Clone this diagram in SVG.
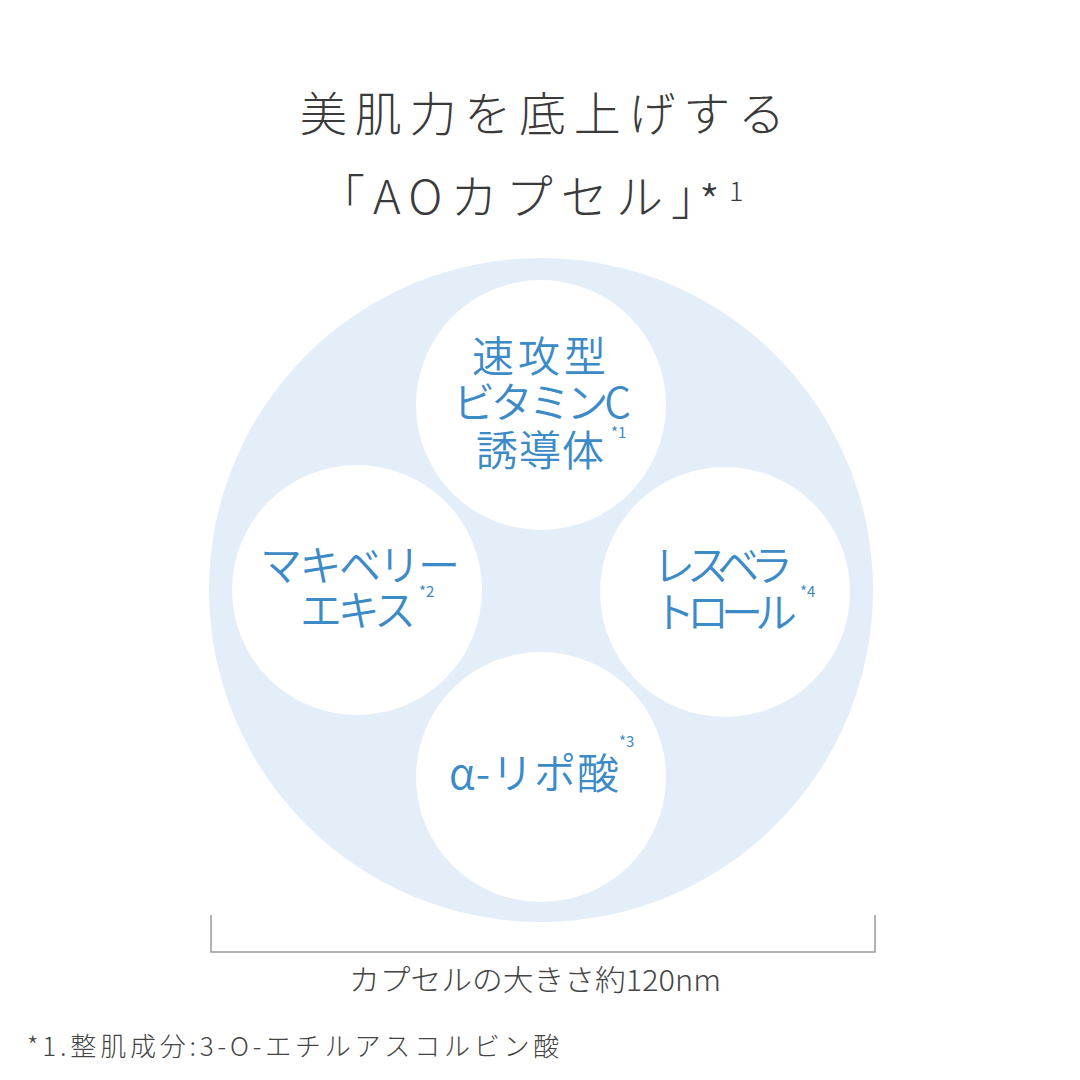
<svg xmlns="http://www.w3.org/2000/svg" width="1080" height="1080" viewBox="0 0 1080 1080">
<style>
.t{font-family:"Noto Sans CJK JP","Noto Sans",sans-serif;font-weight:300;}
.title{font-size:47px;fill:#3a3a3a;}
.lab{font-size:42px;fill:#3c8ac6;font-weight:350;}
.sup{font-size:15px;fill:#3c8ac6;font-weight:400;}
.cap{font-size:29px;fill:#444;}
.foot{font-size:26px;fill:#444;letter-spacing:3.8px;}
.cell{fill:#ffffff;}
</style>
<rect width="1080" height="1080" fill="#ffffff"/>
<g id="title" class="t">
<text class="title" x="300" y="131" textLength="485" lengthAdjust="spacing">美肌力を底上げする</text>
<text class="title" x="318" y="214" textLength="400" lengthAdjust="spacing">「AOカプセル」</text>
<text class="title" x="699" y="220" font-size="60">*</text>
<text class="t" x="729" y="201" font-size="27" fill="#3a3a3a">1</text>
</g>
<g id="capsule">
<circle cx="541" cy="590" r="332" fill="#e4eef9"/>
</g>
<g id="node-vitc">
<circle class="cell" cx="541" cy="405" r="125"/>
<text class="t lab" x="472" y="372" textLength="134" lengthAdjust="spacing">速攻型</text>
<text class="t lab" x="453" y="418" textLength="178" lengthAdjust="spacing">ビタミンC</text>
<text class="t lab" x="476" y="466" textLength="128" lengthAdjust="spacing">誘導体</text>
<text class="t sup" x="611" y="438">*1</text>
</g>
<g id="node-maqui">
<circle class="cell" cx="357" cy="590" r="125"/>
<text class="t lab" x="260" y="581" textLength="200" lengthAdjust="spacing">マキベリー</text>
<text class="t lab" x="300" y="626" textLength="116" lengthAdjust="spacing">エキス</text>
<text class="t sup" x="419" y="597">*2</text>
</g>
<g id="node-resv">
<circle class="cell" cx="725" cy="592" r="125"/>
<text class="t lab" x="653" y="581" textLength="140" lengthAdjust="spacing">レスベラ</text>
<text class="t lab" x="653" y="628" textLength="144" lengthAdjust="spacing">トロール</text>
<text class="t sup" x="800" y="597">*4</text>
</g>
<g id="node-lipoic">
<circle class="cell" cx="541" cy="777" r="125"/>
<text class="t lab" x="449" y="789" textLength="170" lengthAdjust="spacing">α-リポ酸</text>
<text class="t sup" x="619" y="747">*3</text>
</g>
<g id="connectors">
<path d="M211 915 V952 H875 V915" fill="none" stroke="#9a9a9a" stroke-width="1.5"/>
</g>
<g id="labels" class="t">
<text class="cap" x="349" y="991" textLength="372" lengthAdjust="spacingAndGlyphs">カプセルの大きさ約120nm</text>
<text class="foot" x="27" y="1056">*1.整肌成分:3-O-エチルアスコルビン酸</text>
</g>
</svg>
